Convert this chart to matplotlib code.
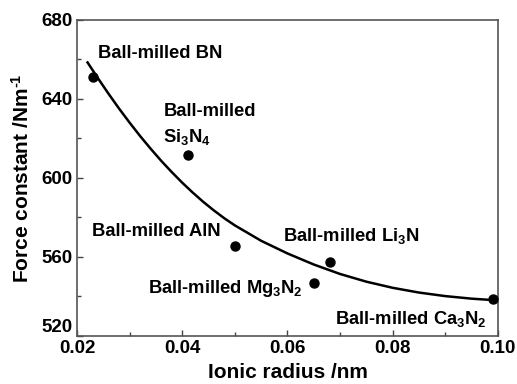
import matplotlib
matplotlib.use('Agg')
import matplotlib.pyplot as plt
from matplotlib.ticker import MultipleLocator

plt.rcParams['font.family'] = 'Liberation Sans'
plt.rcParams['font.weight'] = 'bold'
plt.rcParams['mathtext.fontset'] = 'custom'
plt.rcParams['mathtext.rm'] = 'Liberation Sans:bold'
plt.rcParams['mathtext.it'] = 'Liberation Sans:bold'
plt.rcParams['mathtext.bf'] = 'Liberation Sans:bold'
plt.rcParams['mathtext.default'] = 'rm'

# measured nitrides
radius = [0.023, 0.041, 0.050, 0.065, 0.068, 0.099]
force = [651, 611.5, 565.5, 547, 557.5, 538.5]

# fitted trend line
fit_radius = [0.022, 0.024, 0.026, 0.028, 0.030, 0.032, 0.034, 0.036, 0.038,
              0.040, 0.042, 0.044, 0.046, 0.048, 0.050, 0.055, 0.060, 0.065,
              0.070, 0.075, 0.080, 0.085, 0.090, 0.095, 0.099]
fit_force = [658.5, 650.4, 642.6, 635.1, 628.0, 621.2, 614.8, 608.7, 603.0,
             597.6, 592.6, 587.9, 583.6, 579.6, 576.0, 568.2, 561.8, 556.2,
             551.4, 547.5, 544.4, 542.0, 540.2, 538.9, 538.2]

labels = ["Ball-milled BN", "Ball-milled\nSi$_3$N$_4$", "Ball-milled AlN",
          "Ball-milled Mg$_3$N$_2$", "Ball-milled Li$_3$N", "Ball-milled Ca$_3$N$_2$"]
label_x = [0.024, 0.0364, 0.0228, 0.0335, 0.0591, 0.069]
label_y = [663.2, 627.0, 572.7, 543.9, 570.7, 528.5]

fig = plt.figure(figsize=(5.17, 3.84), dpi=100)
ax = fig.add_axes([0.149, 0.125, 0.814, 0.823])

ax.plot(fit_radius, fit_force, color="black", lw=1.8, zorder=2,
        solid_joinstyle="round")
ax.plot(radius, force, "o", color="black", ms=6.5, zorder=3)

for txt, lx, ly in zip(labels, label_x, label_y):
    ax.text(lx, ly, txt, fontsize=13.2, fontweight="bold", ha="left", va="center",
            linespacing=1.45)

ax.set_xlim(0.02, 0.10)
ax.set_ylim(520, 680)
ax.xaxis.set_minor_locator(MultipleLocator(0.01))
ax.yaxis.set_major_locator(MultipleLocator(40))
ax.yaxis.set_minor_locator(MultipleLocator(20))
ax.set_xticks([0.02, 0.04, 0.06, 0.08, 0.10])
ax.set_xticklabels(["0.02", "0.04", "0.06", "0.08", "0.10"])
ax.tick_params(which="both", direction="in", top=False, right=False,
               labelsize=13.5, width=1, color="#444444")
ax.tick_params(which="major", length=4, pad=3)
ax.tick_params(which="minor", length=3)
for s in ax.spines.values():
    s.set_color("#555555")
    s.set_linewidth(1.2)

ax.set_xlabel("Ionic radius /nm", fontsize=15, fontweight="bold", labelpad=4)
ax.set_ylabel("Force constant /Nm$^{\u20101}$", fontsize=15, fontweight="bold", labelpad=6)

# lift the lowest y label off the x labels
fig.canvas.draw()
for lab in ax.get_yticklabels():
    if lab.get_text() == "520":
        lab.set_va("bottom")

fig.savefig("out.png", dpi=100)
